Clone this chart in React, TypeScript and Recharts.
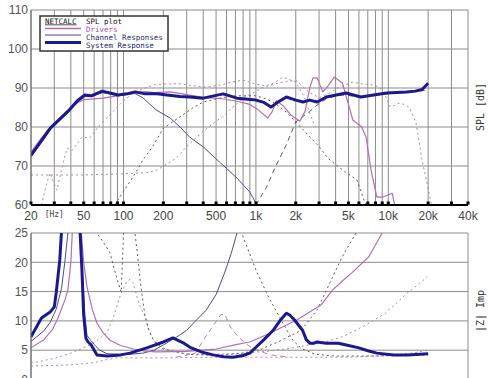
import React from 'react';
import { LineChart, Line, XAxis, YAxis, CartesianGrid } from 'recharts';

type P = [number, number][];

// ---------- axes ----------
const freqTicks = [20, 30, 40, 50, 60, 70, 80, 90, 100, 200, 300, 400, 500, 600, 700, 800, 900, 1000, 2000, 3000, 4000, 5000, 6000, 7000, 8000, 9000, 10000, 20000, 30000, 40000];
const freqLabels: Record<number, string> = {
  20: '20', 30: '[Hz]', 50: '50', 100: '100', 200: '200', 500: '500',
  1000: '1k', 2000: '2k', 5000: '5k', 10000: '10k', 20000: '20k', 40000: '40k',
};
const splTicks = [60, 70, 80, 90, 100, 110];
const impTicks = [0, 5, 10, 15, 20, 25];

// ---------- SPL plot data [Hz, dB] ----------
const splSystem: P = [
  [20, 72.8], [24, 76.5], [28, 79.7], [33, 82], [39, 84.4], [45, 86.8], [51, 88.2], [57, 88], [69, 89.2], [79, 88.7], [91, 88.2], [106, 88.5],
  [122, 89], [146, 88.5], [179, 88.5], [212, 88.2], [267, 87.8], [316, 87.7], [400, 87.4], [566, 88.5],
  [720, 87.4], [1000, 86.9], [1150, 86.3], [1300, 85.1], [1470, 86.4], [1700, 87.7], [2000, 86.9],
  [2270, 86.4], [2550, 86.9], [2900, 86.4], [3400, 87.7], [4800, 88.7], [6200, 87.7], [9700, 88.7],
  [13700, 89], [16000, 89.2], [18000, 89.6], [20000, 91.2],
];
const splWooferChannel: P = [
  [20, 72.3], [24, 76], [28, 79.3], [33, 81.7], [39, 84], [45, 86.4], [51, 87.8], [57, 87.8], [69, 88.8], [79, 88.5], [91, 88], [106, 88.3],
  [122, 88.6], [140, 87.5], [176, 84.4], [225, 82.3], [267, 80], [316, 77.4], [400, 74.9], [540, 70.8],
  [720, 66.9], [900, 63.3], [1000, 60.5], [1100, 58],
];
const splDriver: P = [
  [20, 73.6], [24, 77.2], [28, 80], [33, 82.3], [39, 84.6], [45, 86.2], [50, 87], [60, 87.2], [70, 87.4], [90, 88], [110, 88.7], [145, 89.1],
  [170, 88.8], [225, 89], [300, 88.3], [400, 87.6], [540, 87.3], [720, 86.6], [900, 85.8], [1040, 84.4],
  [1230, 82.3], [1330, 84], [1420, 86.7], [1600, 85.5], [1850, 83], [2150, 81.5], [2350, 84], [2550, 90],
  [2700, 92.6], [2900, 92.6], [3200, 89], [3500, 90.5], [3900, 92.8], [4500, 91.3], [5400, 81.8],
  [6300, 80], [6800, 77.4], [7400, 69], [8200, 62], [9000, 62], [10700, 63], [11500, 58],
];
const splMidChannel: P = [
  [86, 60], [100, 63.5], [118, 67.2], [140, 71.5], [166, 75], [200, 79.7], [267, 82.6], [330, 84.8],
  [400, 86.4], [550, 87.5], [700, 88], [1000, 88], [1200, 87.2], [1400, 86], [1700, 83.8], [2000, 81.3],
  [2550, 77.5], [3000, 75], [3500, 72], [4500, 69], [5800, 66.4], [6600, 61], [7200, 58],
];
const splTweeterChannel: P = [
  [1000, 60], [1200, 64.5], [1400, 69.7], [1700, 75.5], [2000, 81.3], [2550, 84], [3000, 86], [3500, 87.5],
  [4500, 88.2], [6000, 87.8], [8000, 88.2], [10000, 88.5], [15000, 89], [20000, 89.5],
];
const splWooferRaw: P = [
  [24, 60], [26, 65], [27.8, 68.2], [29.5, 66], [31.4, 63.8], [34, 69], [37.4, 74.6], [40.9, 74],
  [48.6, 77.4], [55.8, 77.2], [66, 80.5], [78.6, 83], [95, 86], [115, 88.5], [140, 89.8], [170, 90.8],
  [200, 91], [260, 91.1], [330, 90.6], [420, 90.2], [550, 90.8], [650, 91.5], [800, 92], [1000, 91],
  [1200, 90.5], [1400, 91.5], [1600, 92.8], [2000, 91.5], [2300, 88], [2550, 83.6], [2800, 80],
];
const splMidRaw: P = [
  [20, 67.7], [50, 67.7], [100, 68], [150, 68.3], [180, 69], [200, 70], [250, 72], [300, 75], [360, 77.5],
  [420, 79.5], [500, 81.5], [560, 82.6], [640, 84.5], [720, 86], [850, 88], [950, 88.7], [1100, 90],
  [1300, 90.8], [1600, 91.5], [2000, 92], [2500, 89], [3000, 87.5], [3500, 88.5], [4300, 90.3],
  [5400, 91.5], [6500, 91], [7700, 90.8], [8500, 90.3], [9500, 88], [10400, 85.1], [12300, 86.2],
  [14400, 85.1], [16200, 81], [18000, 71.5], [19900, 64.6], [21500, 59],
];

// ---------- Impedance plot data [Hz, ohm] ----------
const impSystem: P = [
  [20, 7.3], [24, 10.5], [27.9, 11.5], [30, 12.4], [31, 14.8], [33, 20.4], [35, 30], [38, 45], [42, 45],
  [45, 30], [47, 25], [48.5, 18.7], [50, 11], [52, 7], [54, 6.4], [57, 5.9], [63, 4.2], [75, 4],
  [95, 4.2], [112, 4.5], [150, 5.4], [200, 6.4], [236, 7.1], [280, 6.3], [318, 5.5], [400, 4.6],
  [474, 4.2], [570, 3.9], [670, 3.8], [800, 4.1], [900, 4.5], [1000, 5.5], [1150, 6.8], [1350, 8.4],
  [1550, 10.3], [1700, 11.3], [1800, 11], [1950, 10.2], [2250, 8.4], [2400, 6.8], [2550, 6.2],
  [2750, 6.2], [2900, 6.4], [3400, 6.2], [4200, 6.2], [5000, 5.8], [6000, 5.4], [7000, 4.9],
  [8200, 4.5], [11000, 4.2], [14000, 4.2], [20000, 4.4],
];
const impChannel: P = [
  [20, 6.5], [25, 8.3], [28, 9.8], [31, 12], [34, 15.5], [36, 20], [38, 25], [41, 40], [45, 40],
  [47, 26], [49, 18], [51, 11], [53, 7.5], [56, 6.8], [60, 6], [66, 5], [75, 4.4], [95, 4.3], [110, 4.3],
  [140, 4.5], [170, 5], [200, 5.9], [250, 7.2], [300, 8.4], [350, 10], [420, 11.8], [500, 14.5],
  [580, 18.2], [650, 21.5], [720, 25], [800, 30],
];
const impDriver: P = [
  [20, 5.4], [25, 6.8], [29, 8.5], [32, 10.5], [36, 13.5], [38, 15.3], [40, 20], [41, 25], [43, 40],
  [46, 40], [48, 25], [50, 20], [53, 15.8], [58, 12], [63, 9.6], [70, 8], [79, 6.7], [95, 5.8],
  [119, 5.2], [150, 4.8], [180, 4.7], [300, 4.8], [500, 5.2], [720, 6], [900, 6.4], [1250, 7.8],
  [1600, 9], [2050, 10.2], [2550, 11.5], [3100, 12.7], [3800, 15.3], [4500, 16.8], [5300, 18.2],
  [7100, 20.9], [9000, 25], [10000, 28],
];
const impMidRaw: P = [
  [20, 2.8], [30, 3.6], [40, 4.5], [50, 5.4], [60, 6.3], [75, 8], [85, 11], [95, 14.5], [105, 16.6],
  [112, 17.1], [118, 16.5], [126, 14.2], [135, 12.2], [147, 10.5], [153, 8.8], [165, 7], [190, 5.6],
  [230, 4.8], [300, 4.4], [500, 4.3], [800, 4.5], [1200, 4.8], [1800, 5.3], [2500, 5.9], [3100, 6.2],
  [4500, 7.3], [6400, 9], [9500, 11.3], [14000, 14.8], [19700, 17.5],
];
const impFlat: P = [
  [20, 2.3], [40, 2.5], [60, 2.9], [75, 3.4], [90, 3.7], [200, 3.7], [500, 3.8], [1000, 3.8],
  [2000, 3.8], [5000, 3.8], [10000, 4.1], [15000, 4.5], [20000, 5],
];
const impV: P = [
  [60, 28], [63, 25], [70, 23.5], [79, 21.6], [86, 18.5], [91, 16.6], [96, 14.9], [98, 20], [100, 25], [102, 30],
];
const impMidChannel: P = [
  [110, 35], [122, 25], [128, 21], [135, 16], [145, 11], [155, 8.5], [170, 6.5], [200, 5.2], [300, 4.3],
  [500, 4.1], [800, 4.5], [1100, 5.2], [1500, 6.5], [2200, 8.4], [2900, 11.9], [3800, 17.5], [4500, 21],
  [5700, 25], [6500, 30],
];
const impTweeterChannel: P = [
  [650, 32], [780, 25], [1000, 18.7], [1250, 14], [1600, 9.6], [1900, 6.7], [2200, 5.3], [2800, 4.3],
  [4000, 4], [8000, 4], [20000, 4.2],
];
const impDashed: P = [
  [250, 3.8], [350, 4.5], [400, 6.7], [470, 9], [540, 11], [580, 11.2], [640, 9], [720, 7.5], [850, 6],
  [1000, 5], [1300, 4.2], [1800, 3.8],
];

// ---------- styles ----------
const NAVY = '#1a1a8e';
const CHAN = '#4c4c86';
const PINK = '#b46eb4';
const DOT_DARK = '#5a5a5a';
const DOT_PINK = '#a68aac';

type S = { data: P; stroke: string; w: number; dash?: string };

const splSeries: S[] = [
  { data: splMidRaw, stroke: DOT_PINK, w: 1, dash: '2 3' },
  { data: splWooferRaw, stroke: DOT_PINK, w: 1, dash: '2 3' },
  { data: splMidChannel, stroke: DOT_DARK, w: 1, dash: '2 3' },
  { data: splTweeterChannel, stroke: DOT_DARK, w: 1, dash: '5 4' },
  { data: splWooferChannel, stroke: CHAN, w: 1 },
  { data: splDriver, stroke: PINK, w: 1.2 },
  { data: splSystem, stroke: NAVY, w: 3 },
];
const impSeries: S[] = [
  { data: impFlat, stroke: DOT_PINK, w: 1, dash: '2 3' },
  { data: impMidRaw, stroke: DOT_PINK, w: 1, dash: '2 3' },
  { data: impV, stroke: DOT_DARK, w: 1, dash: '2 3' },
  { data: impMidChannel, stroke: DOT_DARK, w: 1, dash: '2 3' },
  { data: impTweeterChannel, stroke: DOT_DARK, w: 1, dash: '2 3' },
  { data: impDashed, stroke: DOT_PINK, w: 1, dash: '5 4' },
  { data: impChannel, stroke: CHAN, w: 1 },
  { data: impDriver, stroke: PINK, w: 1.2 },
  { data: impSystem, stroke: NAVY, w: 3 },
];

const rows = (p: P) => p.map(([f, v]) => ({ f, v }));

const GRID = '#8c8c8c';
const tickFont = { fill: '#555', fontSize: 12, fontFamily: 'Liberation Sans, Arial, sans-serif' };

function FreqTick(props: any) {
  const { x, y, payload } = props;
  const lab = freqLabels[payload.value];
  return (
    <g>
      <rect x={x - 1.5} y={y - 3.5} width={3} height={3} fill="#000" />
      {lab && (
        <text
          x={x}
          y={lab === '[Hz]' ? y + 12 : y + 15}
          textAnchor="middle"
          fontSize={lab === '[Hz]' ? 8 : 12}
          fontFamily={lab === '[Hz]' ? 'DejaVu Sans Mono, monospace' : 'Liberation Sans, Arial, sans-serif'}
          fill="#444"
        >
          {lab}
        </text>
      )}
    </g>
  );
}

function renderLines(series: S[]) {
  return series.map((s, i) => (
    <Line
      key={i}
      data={rows(s.data)}
      dataKey="v"
      type="linear"
      stroke={s.stroke}
      strokeWidth={s.w}
      strokeDasharray={s.dash}
      dot={false}
      activeDot={false}
      isAnimationActive={false}
      strokeLinejoin="round"
    />
  ));
}

export default function App() {
  const mono = 'DejaVu Sans Mono, monospace';
  return (
    <div style={{ position: 'absolute', left: 0, top: 0, width: 490, height: 378, overflow: 'hidden', background: '#fff' }}>
      <div style={{ position: 'absolute', left: 0, top: 0 }}>
        <LineChart width={490} height={225} margin={{ top: 10, right: 22, bottom: 0, left: 0 }}>
          <CartesianGrid stroke={GRID} />
          <XAxis
            dataKey="f"
            type="number"
            scale="log"
            domain={[20, 40000]}
            ticks={freqTicks}
            interval={0}
            allowDataOverflow
            height={20}
            tickSize={0}
            tickMargin={0}
            tickLine={false}
            axisLine={{ stroke: '#000', strokeWidth: 2 }}
            tick={(p: any) => <FreqTick {...p} />}
          />
          <YAxis
            type="number"
            domain={[60, 110]}
            ticks={splTicks}
            interval={0}
            allowDataOverflow
            width={31}
            tickSize={0}
            tickMargin={3}
            tickLine={false}
            axisLine={{ stroke: '#666' }}
            tick={tickFont}
          />
          {renderLines(splSeries)}
        </LineChart>
      </div>
      <div style={{ position: 'absolute', left: 0, top: 223 }}>
        <LineChart width={490} height={170} margin={{ top: 10, right: 22, bottom: 13.5, left: 0 }}>
          <CartesianGrid stroke={GRID} />
          <XAxis
            dataKey="f"
            type="number"
            scale="log"
            domain={[20, 40000]}
            ticks={freqTicks}
            interval={0}
            allowDataOverflow
            height={0}
            tick={false}
            tickLine={false}
            axisLine={false}
          />
          <YAxis
            type="number"
            domain={[0, 25]}
            ticks={impTicks}
            interval={0}
            allowDataOverflow
            width={31}
            tickSize={0}
            tickMargin={3}
            tickLine={false}
            axisLine={{ stroke: '#666' }}
            tick={tickFont}
          />
          {renderLines(impSeries)}
        </LineChart>
      </div>
      <svg width={490} height={378} style={{ position: 'absolute', left: 0, top: 0, pointerEvents: 'none' }}>
        <rect x={40} y={16} width={128} height={35} fill="#fff" stroke="#333" strokeWidth={1.5} />
        <text x={45} y={23.5} fontFamily={mono} fontSize={7.5} fill="#111" textDecoration="underline">NETCALC</text>
        <text x={86} y={23.5} fontFamily={mono} fontSize={7.5} fill="#111">SPL plot</text>
        <line x1={45} x2={81} y1={28.5} y2={28.5} stroke={PINK} strokeWidth={1.5} />
        <text x={86} y={31.5} fontFamily={mono} fontSize={7.5} fill="#b050b0">Drivers</text>
        <line x1={45} x2={81} y1={35} y2={35} stroke={CHAN} strokeWidth={1.2} />
        <text x={86} y={39.5} fontFamily={mono} fontSize={7.5} fill="#2a2a6a">Channel Responses</text>
        <line x1={45} x2={81} y1={42.5} y2={42.5} stroke={NAVY} strokeWidth={3} />
        <text x={86} y={47.5} fontFamily={mono} fontSize={7.5} fill="#1a1a6a">System Response</text>
        <text x={484} y={107} transform="rotate(-90 484 107)" textAnchor="middle" fontFamily={mono} fontSize={10} fill="#333">SPL [dB]</text>
        <text x={484} y={311} transform="rotate(-90 484 311)" textAnchor="middle" fontFamily={mono} fontSize={10} fill="#333">|Z| Imp</text>
      </svg>
    </div>
  );
}
